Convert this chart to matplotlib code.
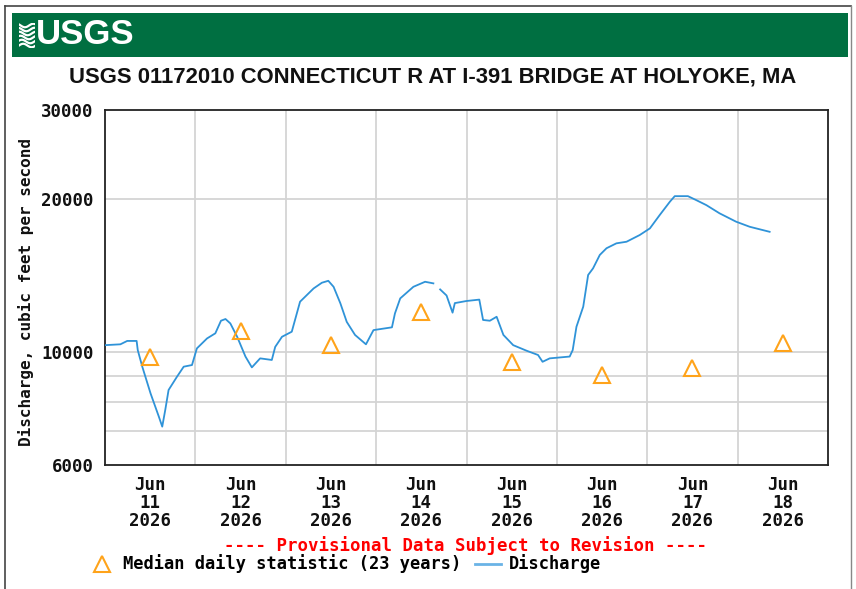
import numpy as np
import matplotlib
matplotlib.use('Agg')
from matplotlib import pyplot as plt
from matplotlib.patches import Rectangle
from matplotlib.lines import Line2D
from matplotlib.ticker import NullFormatter

# discharge, hours after 2026-06-11 00:00 -> cubic feet per second
hours = [0, 4.1, 5.9, 8.4, 8.7, 9.9, 12.1, 14.3, 15.2, 16.0, 16.9, 19.1, 20.9, 23.1,
         24.4, 27.1, 29.3, 30.8, 32.0, 33.3, 35.1, 37.3, 39.0, 41.2, 44.3, 45.2, 47.0,
         49.6, 51.8, 55.4, 57.6, 59.3, 60.7, 62.5, 64.2, 66.4, 69.3, 71.3, 76.2, 77.0,
         78.4, 81.9, 85.0, 87.2, 88.1, 89.0, 90.7, 92.3, 92.9, 96.0, 99.4, 100.4, 102.2,
         104.0, 105.8, 108.4, 112.0, 115.0, 116.2, 118.1, 123.4, 124.2, 125.2, 127.0,
         128.3, 129.6, 131.4, 133.2, 135.8, 138.5, 142.0, 144.7, 147.3, 150.0, 151.3,
         154.8, 157.0, 159.7, 163.2, 167.6, 171.2, 176.5]
discharge = [10330, 10370, 10530, 10530, 10100, 9370, 8300, 7470, 7140, 7700, 8430, 8950,
             9370, 9440, 10180, 10650, 10900, 11540, 11630, 11400, 10730, 9810, 9340, 9730,
             9660, 10250, 10730, 10980, 12580, 13360, 13710, 13830, 13460, 12490, 11480,
             10820, 10370, 11060, 11200, 11930, 12770, 13460, 13770, 13670, np.nan, 13300,
             12940, 11970, 12500, 12620, 12700, 11580, 11540, 11750, 10820, 10330, 10070,
             9880, 9580, 9730, 9810, 10100, 11230, 12300, 14200, 14630, 15550, 16030, 16390,
             16510, 17020, 17540, 18630, 19790, 20300, 20300, 19940, 19490, 18780, 18080,
             17670, 17270]

# median daily statistic (23 years), plotted at noon of each day
days = ['2026-06-11', '2026-06-12', '2026-06-13', '2026-06-14',
        '2026-06-15', '2026-06-16', '2026-06-17', '2026-06-18']
median = [9800, 11000, 10330, 12000, 9570, 9020, 9310, 10430]

y_ticks = [6000, 10000, 20000, 30000]
y_grid = [7000, 8000, 9000, 10000, 20000]

start = np.datetime64('2026-06-11T00:00')
t = start + (np.array(hours) * 60).astype('timedelta64[m]')
noons = np.array(days, dtype='datetime64[m]') + np.timedelta64(12, 'h')
midnights = np.array(days[1:], dtype='datetime64[m]')

mono = 'DejaVu Sans Mono'
line_blue = '#2f93d8'
tri_orange = '#ffa31a'

fig = plt.figure(figsize=(8.56, 5.89), dpi=100)

# page frame + green banner
fig.add_artist(Line2D([4.5 / 856, 4.5 / 856], [0, 1 - 6 / 589], color='#444444', lw=1.2))
fig.add_artist(Line2D([4.5 / 856, 851 / 856], [1 - 6 / 589, 1 - 6 / 589], color='#444444', lw=1.2))
fig.add_artist(Line2D([851 / 856, 851 / 856], [0, 1 - 6 / 589], color='#888888', lw=1.0))
fig.add_artist(Rectangle((12 / 856, 1 - 57 / 589), 836 / 856, 44 / 589,
                         transform=fig.transFigure, color='#006f41', lw=0))

# logo icon: white waves
icon = fig.add_axes([19 / 856, 1 - 48 / 589, 16 / 856, 25 / 589])
icon.set_zorder(5)
icon.set_xlim(0, 1)
icon.set_ylim(0, 1)
icon.axis('off')
xs = np.linspace(0, 1, 30)
for k in range(6):
    icon.plot(xs, 0.1 + k * 0.16 + 0.07 * np.sin(xs * 6 + k * 0.5), color='white', lw=1.6)
fig.text(36 / 856, 1 - 35 / 589, 'USGS', color='white', fontsize=25, fontweight='bold',
         family=['Liberation Sans', 'DejaVu Sans'], va='center', ha='left', zorder=5)

fig.text(432.5 / 856, 1 - 77 / 589, 'USGS 01172010 CONNECTICUT R AT I-391 BRIDGE AT HOLYOKE, MA',
         fontsize=15.8, fontweight='bold', family=['Liberation Sans', 'DejaVu Sans'],
         ha='center', va='center', color='#111111')

ax = fig.add_axes([105 / 856, 1 - 465 / 589, 723 / 856, 355 / 589])
ax.plot(t, discharge, color=line_blue, lw=1.3, zorder=3)
ax.plot(noons, median, linestyle='none', marker='^', markersize=11, markerfacecolor='none',
        markeredgecolor=tri_orange, markeredgewidth=1.5, zorder=4)

ax.set_yscale('log')
ax.set_ylim(6000, 30000)
ax.set_xlim(start, start + np.timedelta64(8, 'D'))

ax.yaxis.remove_overlapping_locs = False
ax.set_yticks(y_ticks)
ax.set_yticklabels([str(v) for v in y_ticks])
ax.set_yticks(y_grid, minor=True)
ax.yaxis.set_minor_formatter(NullFormatter())
labels = []
for d in days:
    y, m, dd = d.split('-')
    labels.append(f'Jun\n{dd}\n{y}')
ax.set_xticks(noons)
ax.set_xticklabels(labels)
ax.set_xticks(midnights, minor=True)

ax.tick_params(which='both', length=0)
ax.tick_params(axis='y', pad=8)
ax.tick_params(axis='x', pad=8)
for lab in ax.get_yticklabels() + ax.get_xticklabels():
    lab.set_family(mono)
    lab.set_fontweight('bold')
    lab.set_fontsize(12.5)
    lab.set_color('#111111')
for lab in ax.get_xticklabels():
    lab.set_linespacing(0.98)

ax.grid(False)
ax.grid(True, which='minor', color='#d4d4d4', lw=1.3)
ax.set_axisbelow(True)
for s in ax.spines.values():
    s.set_linewidth(1.3)
    s.set_color('#222222')

ax.set_ylabel('Discharge, cubic feet per second', family=mono, fontweight='bold',
              fontsize=11.5, color='#111111')
ax.yaxis.set_label_coords(-71 / 723, 0.487)

fig.text(465 / 856, 1 - 546 / 589, '---- Provisional Data Subject to Revision ----',
         color='#ff0000', family=mono, fontweight='bold', fontsize=12.5, ha='center', va='center')

h_tri = Line2D([], [], linestyle='none', marker='^', markersize=11, markerfacecolor='none',
               markeredgecolor=tri_orange, markeredgewidth=1.5)
h_line = Line2D([], [], color='#6ab3e6', lw=2)
leg = fig.legend([h_tri, h_line], ['Median daily statistic (23 years)', 'Discharge'],
                 loc='center left', bbox_to_anchor=(89 / 856, 1 - 564 / 589), ncol=2,
                 frameon=False, handlelength=1.53, handletextpad=0.47, columnspacing=0.82,
                 borderpad=0, borderaxespad=0,
                 prop={'family': mono, 'weight': 'bold', 'size': 12.25})

fig.savefig('out.png', dpi=100)
